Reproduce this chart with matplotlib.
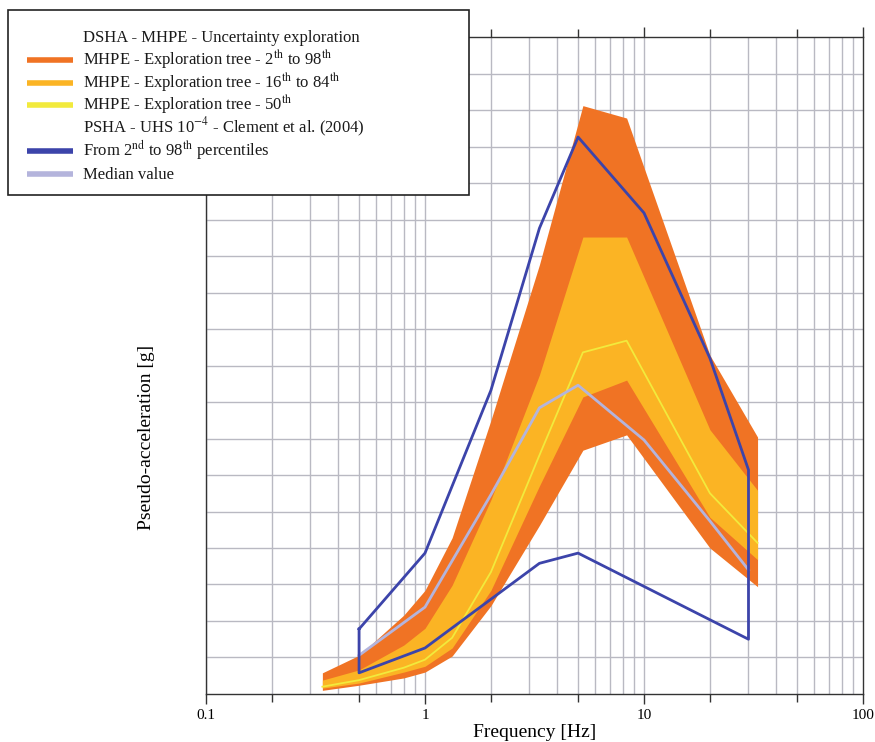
import numpy as np
import matplotlib.pyplot as plt
from matplotlib.lines import Line2D
from matplotlib.patches import Rectangle
from matplotlib.ticker import NullFormatter, FixedLocator, FixedFormatter

plt.rcParams["font.family"] = ["Liberation Serif", "DejaVu Serif"]
plt.rcParams["mathtext.fontset"] = "stix"

# DSHA / MHPE exploration tree percentiles (pseudo-acceleration, g)
freq_band = [0.34, 0.5, 0.8, 1.0, 1.33, 2.0, 3.33, 5.26, 8.33, 20.0, 33.0]
p98 = [0.029, 0.053, 0.108, 0.142, 0.214, 0.375, 0.588, 0.806, 0.789, 0.464, 0.352]
p84 = [0.019, 0.033, 0.067, 0.090, 0.149, 0.266, 0.437, 0.626, 0.626, 0.362, 0.279]
p50 = [0.010, 0.019, 0.036, 0.047, 0.077, 0.167, 0.327, 0.468, 0.484, 0.275, 0.207]
p16 = [0.008, 0.015, 0.030, 0.038, 0.063, 0.142, 0.285, 0.407, 0.430, 0.242, 0.184]
p02 = [0.005, 0.012, 0.022, 0.030, 0.052, 0.121, 0.231, 0.334, 0.355, 0.200, 0.147]

# PSHA uniform hazard spectrum 10^-4 (Clement et al., 2004)
freq_uhs_hi = [0.5, 1.0, 2.0, 3.33, 5.0, 10.0, 20.0, 30.0]
uhs_98 = [0.089, 0.193, 0.416, 0.638, 0.763, 0.659, 0.460, 0.307]
freq_uhs_lo = [0.5, 1.0, 3.33, 5.0, 30.0]
uhs_02 = [0.029, 0.063, 0.179, 0.193, 0.075]
uhs_med = [0.053, 0.119, 0.273, 0.392, 0.423, 0.348, 0.237, 0.170]

c_outer = "#f07324"
c_inner = "#fbb424"
c_p50 = "#f2ea3c"
c_blue = "#3c44aa"
c_med = "#b4b4dc"

legend_labels = [
    "DSHA - MHPE - Uncertainty exploration",
    r"MHPE - Exploration tree - 2$^{\mathrm{th}}$ to 98$^{\mathrm{th}}$",
    r"MHPE - Exploration tree - 16$^{\mathrm{th}}$ to 84$^{\mathrm{th}}$",
    r"MHPE - Exploration tree - 50$^{\mathrm{th}}$",
    r"PSHA - UHS 10$^{-4}$ - Clement et al. (2004)",
    r"From 2$^{\mathrm{nd}}$ to 98$^{\mathrm{th}}$ percentiles",
    "Median value",
]
legend_colors = [None, c_outer, c_inner, c_p50, None, c_blue, c_med]

W, H = 875, 742
fig = plt.figure(figsize=(W / 100, H / 100), dpi=100)
ax = fig.add_axes([0.2354, 0.0647, 0.7509, 0.8854])

ax.fill_between(freq_band, p02, p98, color=c_outer, lw=0, zorder=2)
ax.fill_between(freq_band, p16, p84, color=c_inner, lw=0, zorder=3)
ax.plot(freq_band, p50, color=c_p50, lw=1.3, zorder=4)
ax.plot(freq_uhs_hi, uhs_med, color=c_med, lw=2, zorder=5)

# 2nd-98th envelope drawn as one closed outline
env_f = freq_uhs_hi + freq_uhs_lo[::-1] + [freq_uhs_hi[0]]
env_v = uhs_98 + uhs_02[::-1] + [uhs_98[0]]
ax.plot(env_f, env_v, color=c_blue, lw=2, zorder=6)

ax.set_xscale("log")
ax.set_xlim(0.1, 100)
ax.set_ylim(0, 0.9)

ax.xaxis.set_major_locator(FixedLocator([0.1, 1, 10, 100]))
ax.xaxis.set_major_formatter(FixedFormatter(["0.1", "1", "10", "100"]))
ax.xaxis.set_minor_locator(FixedLocator([0.2, 0.5, 2, 5, 20, 50]))
ax.xaxis.set_minor_formatter(NullFormatter())
ax.tick_params(axis="x", which="both", top=True, direction="out", labelsize=11,
               color="#333333")
ax.tick_params(axis="x", which="major", length=7, width=1, pad=4)
ax.tick_params(axis="x", which="minor", length=6, width=1)
ax.tick_params(axis="y", which="both", left=False, labelleft=False)

# grid: every integer in each decade, every 0.05 g
for dec in [0.1, 1, 10]:
    for k in range(1, 10):
        ax.axvline(dec * k, color="#b9b9c2", lw=1, zorder=1)
for yv in np.arange(0.05, 0.9, 0.05):
    ax.axhline(yv, color="#b9b9c2", lw=1, zorder=1)

for s in ax.spines.values():
    s.set_color("#333333")
    s.set_linewidth(1)

ax.set_xlabel("Frequency [Hz]", fontsize=14, labelpad=1)
ax.set_ylabel("Pseudo-acceleration [g]", fontsize=14)
ax.yaxis.set_label_coords(-0.078, 0.391)

# key box in the top-left corner, laid out in pixels
box = Rectangle((8 / W, 1 - 195 / H), 461 / W, 185 / H,
                transform=fig.transFigure, facecolor="white",
                edgecolor="#222222", lw=1.2, zorder=3)
fig.patches.append(box)

row_y0, row_step = 37, 22.8
for i, (lab, col) in enumerate(zip(legend_labels, legend_colors)):
    yc = row_y0 + i * row_step
    if col is not None:
        fig.add_artist(Line2D([27 / W, 73 / W], [1 - yc / H, 1 - yc / H],
                              transform=fig.transFigure, color=col, lw=4,
                              solid_capstyle="butt", zorder=4))
    fig.text(83 / W, 1 - (yc + 5) / H, lab, fontsize=12, ha="left",
             va="baseline", color="#1a1a1a", zorder=4)

fig.savefig("out.png", dpi=100)
